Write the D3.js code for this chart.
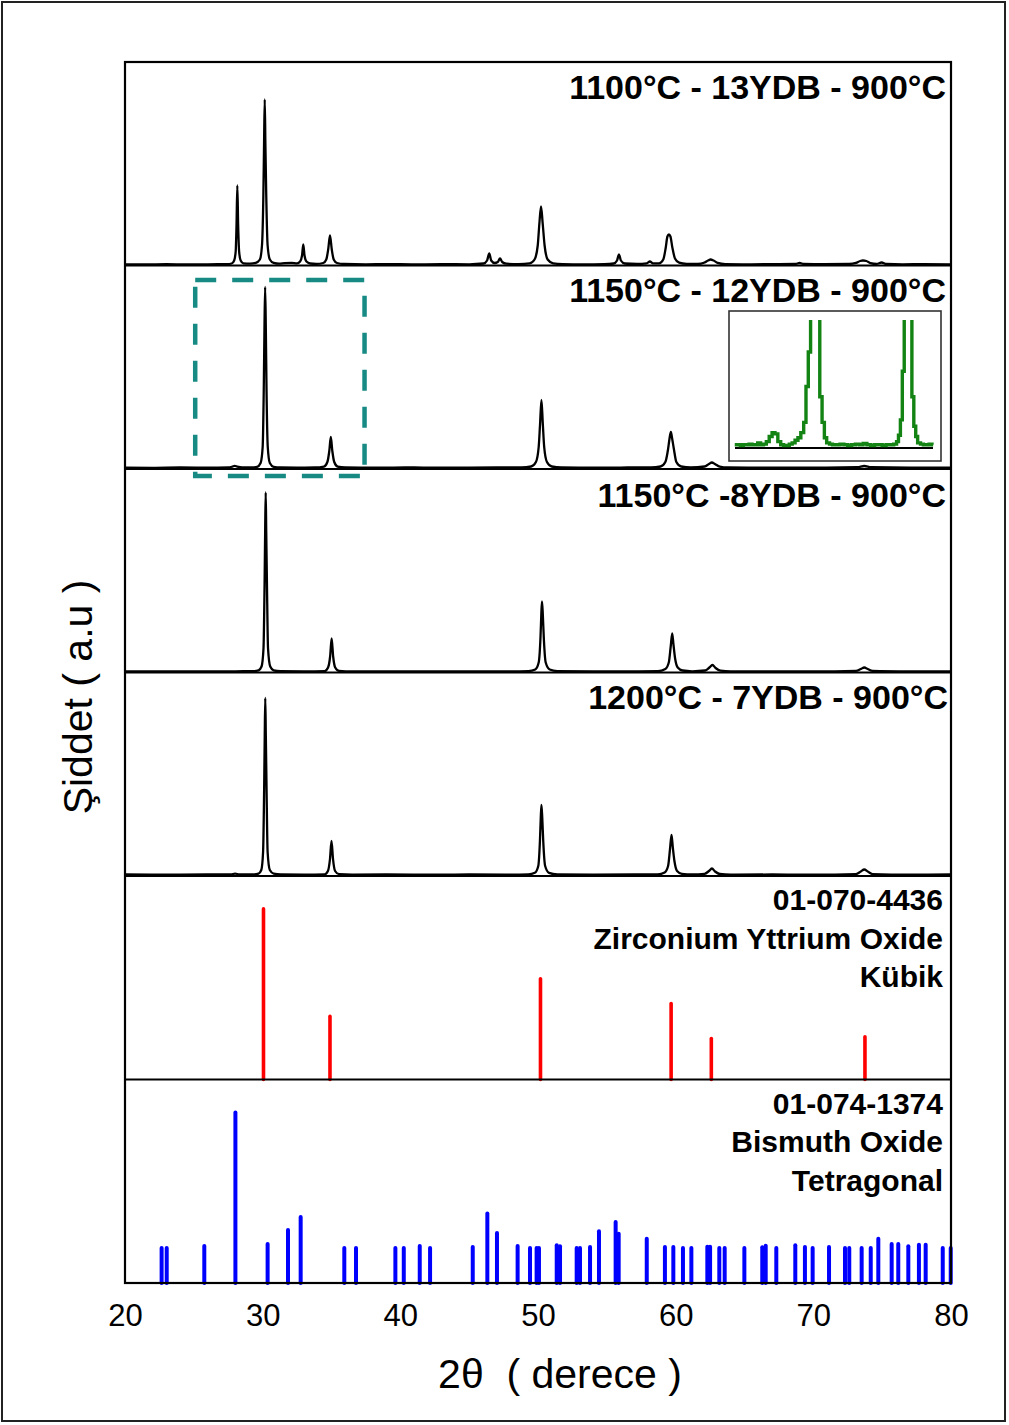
<!DOCTYPE html>
<html>
<head>
<meta charset="utf-8">
<script src="https://cdn.jsdelivr.net/npm/d3@7"></script>
<style>
  body { margin: 0; background: #fff; }
  svg { display: block; }
  text { font-family: "Liberation Sans", Arial, sans-serif; white-space: pre; }
</style>
</head>
<body>
<svg id="chart"></svg>
<script>
// ---- data ----
var xTicks = [20, 30, 40, 50, 60, 70, 80];

var sampleNames = ["1100°C - 13YDB - 900°C", "1150°C - 12YDB - 900°C",
                   "1150°C -8YDB - 900°C", "1200°C - 7YDB - 900°C"];

// [2theta, intensity (a.u.)]
var xrd1100 = [[20,1.2],[21.5,1],[23,1.3],[24.5,1],[26,1.2],[27.4,1.3],
  [27.75,2],[27.93,5],[28.04,14],[28.1,40],[28.16,80],[28.22,40],[28.29,14],[28.4,5],[28.6,2.2],
  [29.1,1.8],[29.5,2.6],[29.8,6],[29.95,20],[30.05,70],[30.1,120],[30.15,166],[30.2,120],[30.26,70],[30.36,20],[30.52,6],[30.8,2.6],[31.2,1.8],
  [31.6,2.4],[32.1,2.6],[32.5,2.2],[32.72,4],[32.86,10],[32.95,21],[33.04,10],[33.18,4],[33.45,2],
  [33.9,1.6],[34.4,2.5],[34.62,6],[34.76,16],[34.89,30],[35.02,16],[35.16,6],[35.4,2.5],[35.9,1.5],
  [37.5,1.2],[39,1.4],[41,1.1],[43,1.3],[45,1.2],[46.05,2],[46.3,5],[46.46,12],[46.6,5],[46.85,2.5],[47.08,3.5],[47.24,7],[47.4,3.5],[47.7,1.8],
  [48.6,1.4],[49.4,2.2],[49.75,6],[49.98,20],[50.1,42],[50.22,59],[50.34,42],[50.48,20],[50.7,6],[51.1,2.2],[51.8,1.4],
  [53.3,1.2],[54.8,1.4],[55.5,2],[55.74,5],[55.88,11],[56.02,5],[56.3,2],[57.2,1.5],[57.9,2.2],[58.13,4],[58.35,2.2],
  [58.8,2.2],[59.1,6],[59.28,18],[59.4,29],[59.51,31],[59.62,29],[59.76,18],[59.95,7],[60.25,2.8],[60.8,1.6],
  [61.6,1.5],[62.1,3],[62.35,5],[62.54,6],[62.75,5],[63.05,2.6],[63.6,1.4],
  [65.5,1.2],[67.5,1.4],[68.7,1.5],[69,2.5],[69.3,1.5],[70.8,1.3],[72.6,1.5],[73.1,2.6],[73.4,4.5],[73.6,5],[73.85,4.5],[74.15,2.4],[74.6,1.6],[74.96,3],[75.3,1.5],[76.5,1.2],[78,1.4],[80,1.2]];

var xrd1150a = [[20,1.4],[22,1.2],[24,1.5],[26,1.3],[27.5,1.5],[27.8,2.4],[27.97,3.2],[28.15,2.4],[28.5,1.5],
  [29.2,1.5],[29.6,2.2],[29.85,6],[30,22],[30.08,80],[30.13,140],[30.18,182],[30.23,140],[30.28,80],[30.37,22],[30.52,6],[30.8,2.2],[31.3,1.5],
  [32.5,1.4],[33.8,1.5],[34.45,2.4],[34.7,7],[34.84,18],[34.95,32],[35.06,18],[35.2,7],[35.45,2.4],[36,1.5],
  [38,1.3],[41,1.5],[44,1.3],[47,1.5],[48.8,1.6],[49.5,2.5],[49.85,7],[50.05,22],[50.15,45],[50.25,69],[50.35,45],[50.45,22],[50.65,7],[51,2.5],[51.7,1.5],
  [54,1.4],[56.5,1.5],[58.2,1.6],[58.9,2.5],[59.25,7],[59.45,20],[59.55,30],[59.65,37],[59.75,30],[59.87,20],[60.05,7],[60.4,2.5],[61.1,1.6],
  [62.1,2.5],[62.42,5],[62.63,6.5],[62.85,5],[63.2,2.4],[63.8,1.5],[66,1.3],[70,1.4],[73.2,1.8],[73.7,3],[74.2,1.8],[77,1.4],[80,1.4]];

var xrd1150b = [[20,1],[23,1.2],[26,1],[28,1.2],[29.3,1.3],[29.7,2.2],[29.92,6],[30.06,24],[30.14,90],[30.18,140],[30.22,180],[30.26,140],[30.31,90],[30.39,24],[30.55,6],[30.8,2.2],[31.3,1.3],
  [33,1.1],[34.5,1.4],[34.75,5],[34.9,16],[35.01,34],[35.12,16],[35.27,5],[35.55,1.6],[36.5,1.1],
  [39,1.2],[42,1],[45,1.2],[48,1.1],[49.3,1.4],[49.8,3],[50.05,10],[50.18,35],[50.24,58],[50.29,71],[50.35,58],[50.42,35],[50.56,10],[50.85,3],[51.4,1.4],
  [54,1.1],[57,1.2],[58.7,1.4],[59.25,3.5],[59.5,10],[59.64,26],[59.75,39],[59.84,28],[59.96,14],[60.15,5],[60.5,2],[61.2,1.2],
  [62.15,2],[62.45,5],[62.67,7.5],[62.9,4.5],[63.25,1.8],[64,1.1],[67,1.2],[70,1],[73.1,1.6],[73.45,3.5],[73.7,5],[73.95,3.5],[74.3,1.6],[77,1.1],[80,1]];

var xrd1200 = [[20,1.5],[23,1.3],[26,1.5],[27.7,1.6],[28,2.4],[28.3,1.6],[29.3,1.6],[29.7,2.4],[29.9,6],[30.03,24],[30.11,90],[30.15,140],[30.19,178],[30.23,140],[30.28,90],[30.36,24],[30.52,6],[30.8,2.4],[31.3,1.6],
  [33,1.4],[34.5,1.7],[34.74,5],[34.89,17],[35,35],[35.11,17],[35.26,5],[35.55,1.8],[36.5,1.4],
  [39,1.5],[42,1.3],[45,1.5],[48,1.4],[49.3,1.7],[49.77,3.2],[50.02,10],[50.14,35],[50.2,58],[50.25,71],[50.31,58],[50.38,35],[50.52,10],[50.8,3.2],[51.4,1.7],
  [54,1.4],[57,1.5],[58.7,1.7],[59.2,3.6],[59.45,10],[59.59,27],[59.7,41],[59.79,29],[59.91,15],[60.1,5],[60.45,2.2],[61.2,1.5],
  [62.1,2.2],[62.42,5],[62.63,7.5],[62.86,4.5],[63.2,2],[64,1.4],[67,1.5],[70,1.3],[73.1,1.9],[73.45,4.5],[73.7,6.5],[73.95,4.5],[74.3,1.9],[77,1.4],[80,1.5]];

var zoomTheta = [26,26.15,26.3,26.45,26.6,26.75,26.9,27.05,27.2,27.35,27.5,27.65,27.8,27.95,28.1,28.25,28.4,28.55,28.7,28.85,29,29.15,29.3,29.45,29.6,29.72,29.84,29.96,30.08,30.2,30.32,30.44,30.56,30.68,30.8,30.95,31.1,31.3,31.5,31.7,31.9,32.1,32.3,32.5,32.7,32.9,33.1,33.3,33.5,33.7,33.9,34.1,34.3,34.45,34.55,34.65,34.75,34.85,34.95,35.05,35.15,35.25,35.35,35.45,35.55,35.7,35.85,36,36.15,36.3,36.36];
var zoomCounts = [2.5,2.5,2,2.5,2.5,3,2.5,2.5,4,2.5,3,5,9,12,11,5,2.5,2,2,3,4,6,8,12,20,48,75,130,250,300,140,40,20,8,4,3,2.5,2.5,3,2.5,2,2.5,3,2.5,3.5,2.5,2,2.5,2.5,2,2.5,2.5,3,5,10,22,60,150,200,200,160,40,17,9,4,3,2.5,2.5,3,2.5,2.5];

var cubicTheta = [30.06, 34.89, 50.18, 59.67, 62.59, 73.75];
var cubicInt = [100, 37, 59, 44.5, 24, 25];

var tetraTheta = [22.66, 23.03, 25.76, 28.02, 30.36, 31.84, 32.76, 35.93, 36.78, 39.64, 40.25, 41.41, 42.16,
  45.26, 46.32, 47.02, 48.52, 49.42, 49.9, 50.07, 51.36, 51.6, 52.81, 53.05, 53.78, 54.43, 55.64, 55.86, 57.9,
  59.22, 59.83, 60.53, 61.14, 62.3, 62.5, 63.17, 63.56, 64.99, 66.29, 66.54, 67.31, 68.69, 69.39, 69.95, 71.14,
  72.3, 72.61, 73.51, 74.17, 74.72, 75.69, 76.17, 76.9, 77.67, 78.16, 79.4, 79.98];
var tetraInt = [20.5, 20.5, 21.7, 100, 22.9, 31.1, 38.7, 20.5, 20.5, 20.5, 20.5, 21.7, 20.5,
  21.1, 40.8, 29.3, 21.7, 20.5, 20.5, 20.5, 22.1, 21.5, 20.5, 20.5, 21.1, 30.3, 35.8, 28.9, 26,
  21.1, 21.1, 20.5, 20.5, 21.3, 21.3, 20.5, 20.5, 20.5, 20.9, 21.9, 20.5, 22.1, 21.1, 20.5, 21.1,
  20.5, 20.5, 20.5, 20.5, 26, 22.9, 22.9, 21.5, 22.4, 22.4, 20.5, 20.5];

var cubicLabel = ["01-070-4436", "Zirconium Yttrium Oxide", "Kübik"];
var tetraLabel = ["01-074-1374", "Bismuth Oxide", "Tetragonal"];

// ---- layout ----
var W = 1009, H = 1425;
var plotL = 125, plotR = 951, plotT = 62, plotB = 1283;
var panelH = (plotB - plotT) / 6;

var svg = d3.select("#chart").attr("width", W).attr("height", H);

svg.append("rect").attr("x", 2).attr("y", 2).attr("width", 1003).attr("height", 1419)
  .attr("fill", "none").attr("stroke", "#222").attr("stroke-width", 2);

var x = d3.scaleLinear().domain([20, 80]).range([plotL, plotR]);

function panelTop(i) { return plotT + i * panelH; }

var line = d3.line()
  .x(function(d) { return x(d[0]); })
  .curve(d3.curveMonotoneX);

var patterns = [xrd1100, xrd1150a, xrd1150b, xrd1200];

patterns.forEach(function(p, i) {
  var y = d3.scaleLinear().domain([0, panelH]).range([panelTop(i) + panelH, panelTop(i)]);
  svg.append("path")
    .datum(p)
    .attr("fill", "none")
    .attr("stroke", "#000")
    .attr("stroke-width", 2.3)
    .attr("stroke-linejoin", "round")
    .attr("d", line.y(function(d) { return y(d[1]); }));

  svg.append("text")
    .attr("x", i == 3 ? 948 : 946)
    .attr("y", panelTop(i) + (i == 2 ? 38 : 36.5))
    .attr("text-anchor", "end")
    .attr("font-size", 34)
    .attr("font-weight", "bold")
    .text(sampleNames[i]);
});

// reference sticks
function sticks(theta, inten, i, color, w) {
  var y = d3.scaleLinear().domain([0, 119.3]).range([panelTop(i) + panelH, panelTop(i)]);
  svg.append("g").selectAll("line")
    .data(theta)
    .enter()
    .append("line")
    .attr("x1", function(d) { return x(d); })
    .attr("x2", function(d) { return x(d); })
    .attr("y1", y(0))
    .attr("y2", function(d, j) { return y(inten[j]); })
    .attr("stroke", color)
    .attr("stroke-width", w)
    .attr("stroke-linecap", "round");
}
sticks(cubicTheta, cubicInt, 4, "#ff0000", 3.6);
sticks(tetraTheta, tetraInt, 5, "#0000ff", 4);

function labels(lines, i) {
  svg.append("g").selectAll("text")
    .data(lines)
    .enter()
    .append("text")
    .attr("x", 943)
    .attr("y", function(d, j) { return panelTop(i) + 34 + j * 38.5; })
    .attr("text-anchor", "end")
    .attr("font-size", 30)
    .attr("font-weight", "bold")
    .text(function(d) { return d; });
}
labels(cubicLabel, 4);
labels(tetraLabel, 5);

// frame and panel dividers
svg.append("rect").attr("x", plotL).attr("y", plotT)
  .attr("width", plotR - plotL).attr("height", plotB - plotT)
  .attr("fill", "none").attr("stroke", "#000").attr("stroke-width", 2.2);
svg.append("g").selectAll("line")
  .data(d3.range(1, 6))
  .enter()
  .append("line")
  .attr("x1", plotL).attr("x2", plotR)
  .attr("y1", function(d) { return panelTop(d); })
  .attr("y2", function(d) { return panelTop(d); })
  .attr("stroke", "#000").attr("stroke-width", 2.2);

// dashed box marking the zoomed region
svg.append("rect")
  .attr("x", x(25.1)).attr("y", 280)
  .attr("width", x(37.4) - x(25.1)).attr("height", 196)
  .attr("fill", "none")
  .attr("stroke", "#178a84")
  .attr("stroke-width", 4.5)
  .attr("stroke-dasharray", "21,16");

// inset
var ix = d3.scaleLinear().domain([25.7, 36.77]).range([729, 941]);
var iy = d3.scaleLinear().domain([0, 100]).range([448, 320]);
svg.append("rect").attr("x", 729).attr("y", 311).attr("width", 212).attr("height", 150)
  .attr("fill", "#fff").attr("stroke", "#333").attr("stroke-width", 1.6);
svg.append("clipPath").attr("id", "insetClip")
  .append("rect").attr("x", 729).attr("y", 320).attr("width", 212).attr("height", 140);
svg.append("line").attr("x1", 735).attr("x2", 933).attr("y1", 448).attr("y2", 448)
  .attr("stroke", "#000").attr("stroke-width", 2);
svg.append("path")
  .datum(zoomTheta)
  .attr("clip-path", "url(#insetClip)")
  .attr("fill", "none")
  .attr("stroke", "#138313")
  .attr("stroke-width", 3.4)
  .attr("d", d3.line()
    .x(function(d) { return ix(d); })
    .y(function(d, j) { return iy(zoomCounts[j]); })
    .curve(d3.curveStepAfter));

// x axis labels
var xAxis = d3.axisBottom(x).tickValues(xTicks).tickSize(0).tickPadding(21);
var gx = svg.append("g").attr("transform", "translate(0," + plotB + ")").call(xAxis);
gx.select(".domain").remove();
gx.selectAll("text")
  .attr("font-size", 31)
  .attr("font-family", "Liberation Sans, Arial, sans-serif")
  .attr("fill", "#000");

svg.append("text")
  .attr("x", 560).attr("y", 1388)
  .attr("text-anchor", "middle")
  .attr("font-size", 41)
  .text("2θ  ( derece )");

svg.append("text")
  .attr("transform", "translate(92,697) rotate(-90)")
  .attr("text-anchor", "middle")
  .attr("font-size", 41)
  .text("Şiddet ( a.u )");
</script>
</body>
</html>
